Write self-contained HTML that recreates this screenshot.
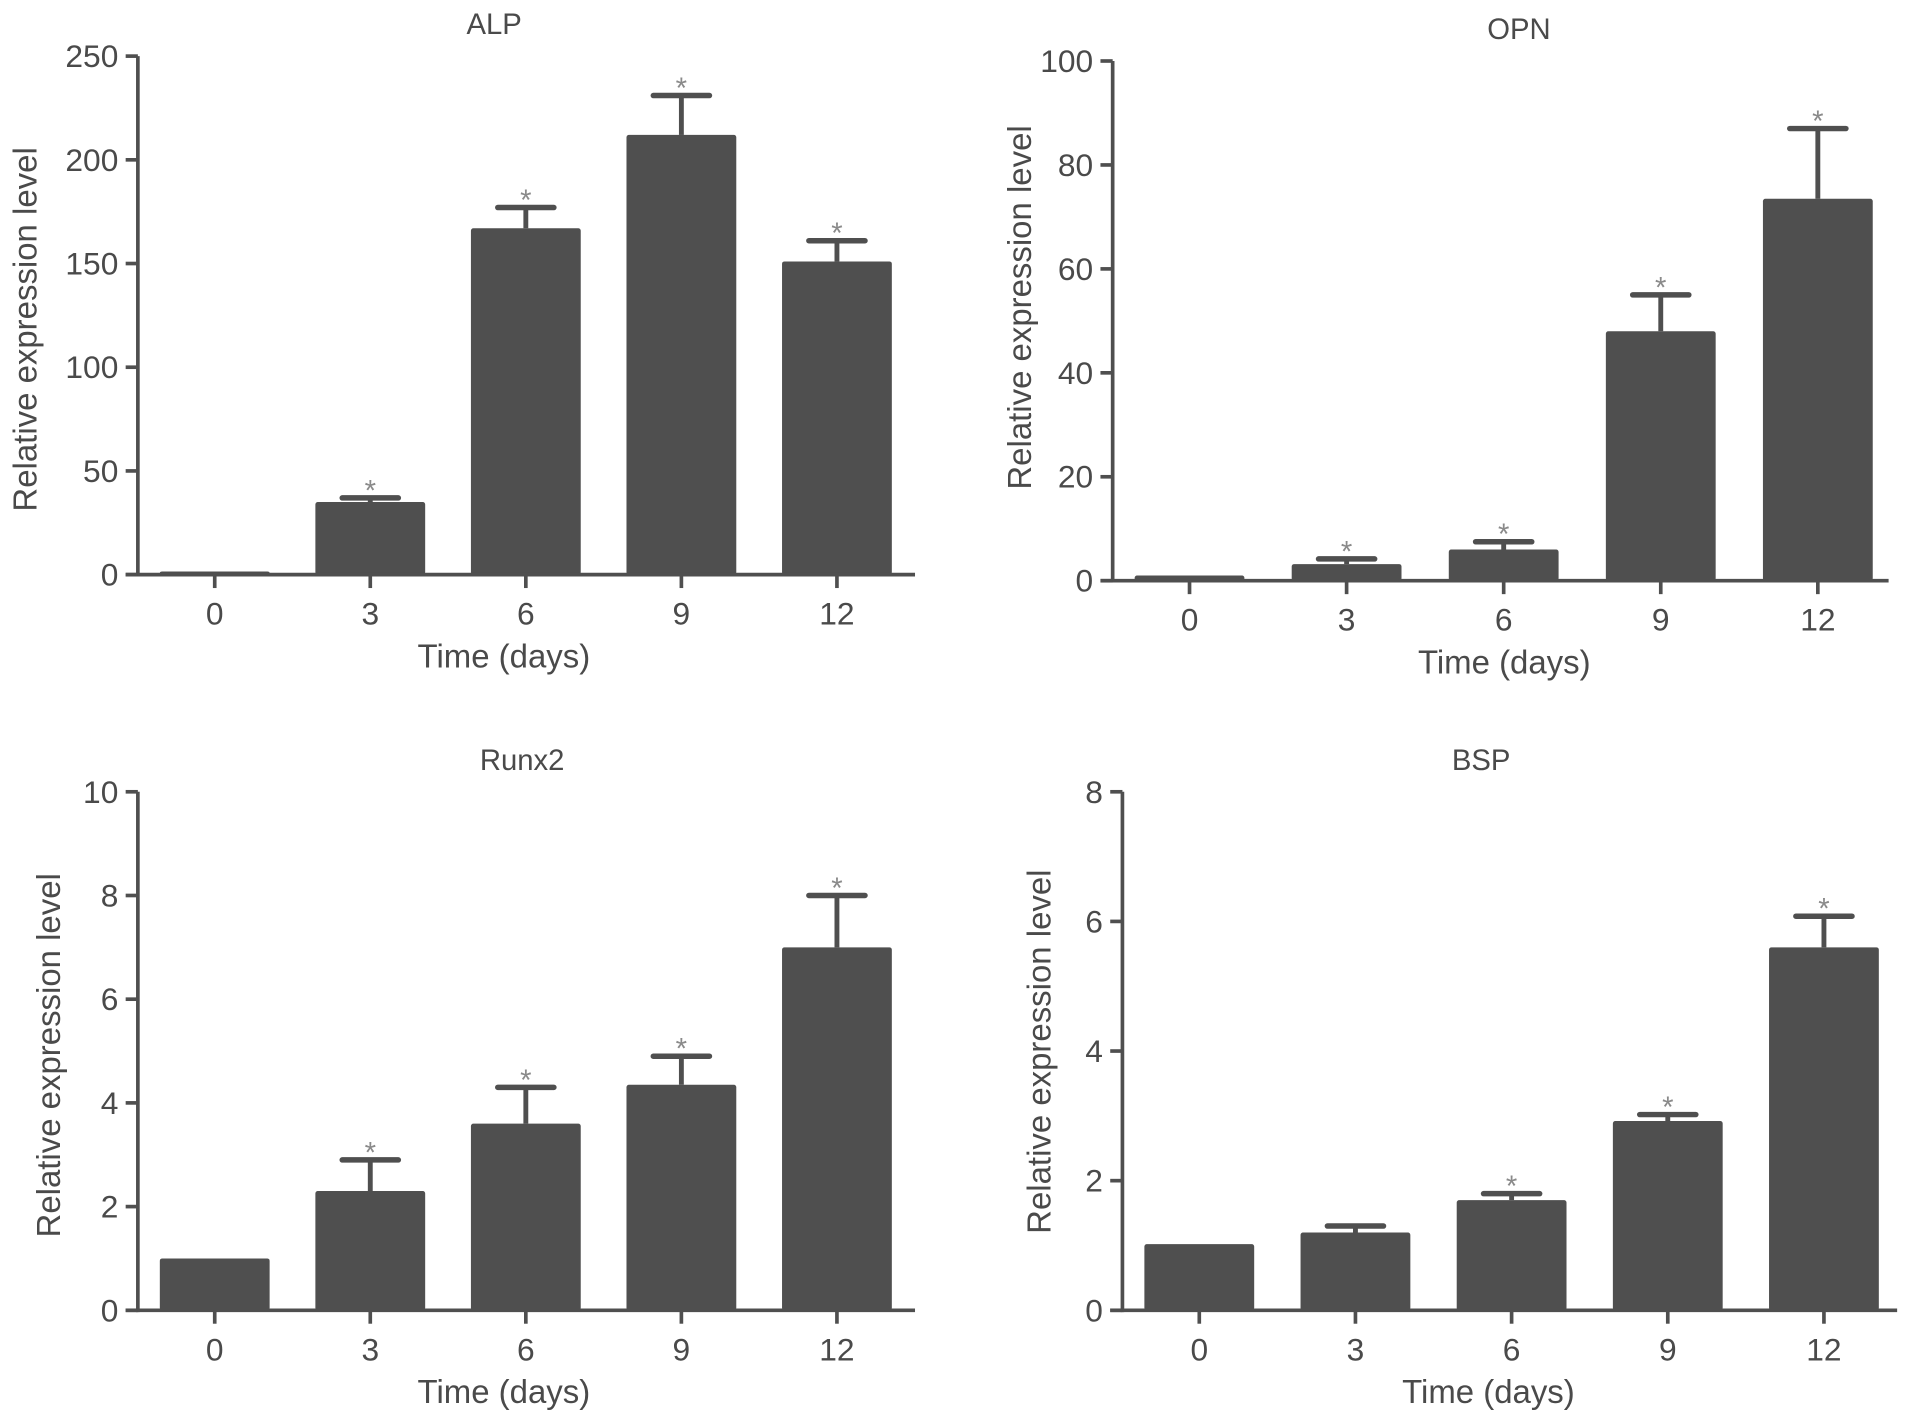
<!DOCTYPE html>
<html><head><meta charset="utf-8"><style>
body{margin:0;background:#fff;}
svg{display:block;font-family:"Liberation Sans",sans-serif;}
</style></head><body>
<svg id="fig" width="1913" height="1424" viewBox="0 0 1568 1167.2" preserveAspectRatio="none" xmlns="http://www.w3.org/2000/svg"></svg>
<script>
const categories = ["0","3","6","9","12"];
const alpValues = [1.5, 35, 167, 212, 151];
const alpErr = [0, 37, 177, 231, 161];
const alpSig = [false, true, true, true, true];
const alpTicks = [0, 50, 100, 150, 200, 250];
const opnValues = [1, 3.2, 6, 48, 73.5];
const opnErr = [0, 4.2, 7.5, 55, 87];
const opnSig = [false, true, true, true, true];
const opnTicks = [0, 20, 40, 60, 80, 100];
const runxValues = [1, 2.3, 3.6, 4.35, 7];
const runxErr = [0, 2.9, 4.3, 4.9, 8];
const runxSig = [false, true, true, true, true];
const runxTicks = [0, 2, 4, 6, 8, 10];
const bspValues = [1.02, 1.2, 1.7, 2.92, 5.6];
const bspErr = [0, 1.3, 1.8, 3.02, 6.08];
const bspSig = [false, false, true, true, true];
const bspTicks = [0, 2, 4, 6, 8];

const NS = "http://www.w3.org/2000/svg";
const svg = document.getElementById("fig");
function mk(tag, attrs, parent, text){
  const e = document.createElementNS(NS, tag);
  for (const k in attrs) e.setAttribute(k, attrs[k]);
  if (text !== undefined) e.textContent = text;
  parent.appendChild(e);
  return e;
}
function panel(cfg, values, errs, sig, ticks){
  const g = mk("g", {}, svg);
  
  
  const maxV = ticks[ticks.length-1];
  const y = v => cfg.y0 - (v / maxV) * (cfg.y0 - cfg.yTop);
  const x = i => cfg.x0 + 63 + i * (cfg.cx4 - cfg.x0 - 63) / 4;
  const col = "#4f4f4f";
  const txt = "#4a4a4a";
  const t = mk("text", {x: cfg.titleX, y: cfg.yTop - 18, "font-size": 24, fill: txt, "text-anchor": "middle"}, g, cfg.title);
  
  
  values.forEach((v, i) => {
    const cx = x(i);
    if (errs[i] > v) {
      const el = mk("line", {x1: cx, x2: cx, y1: y(v), y2: y(errs[i]), stroke: col, "stroke-width": 4}, g);
      
      
      const cap = mk("line", {x1: cx-23, x2: cx+23, y1: y(errs[i]), y2: y(errs[i]), stroke: col, "stroke-width": 4.5, "stroke-linecap": "round"}, g);
      
      
    }
    const r = mk("rect", {x: cx-45, y: y(v), width: 90, height: cfg.y0 - y(v), fill: col, rx: 2}, g);
    
    
    if (sig[i]) {
      const s = mk("text", {x: cx, y: y(Math.max(errs[i], v)) + 2, "font-size": 24, fill: "#8a8a8a", "text-anchor": "middle"}, g, "*");
      
      
    }
    const tk = mk("line", {x1: cx, x2: cx, y1: cfg.y0, y2: cfg.y0 + 11, stroke: col, "stroke-width": 3}, g);
    
    
    const tl = mk("text", {x: cx, y: cfg.y0 + 41, "font-size": 26, fill: txt, "text-anchor": "middle"}, g, categories[i]);
    
    
  });
  const ya = mk("line", {x1: cfg.x0, x2: cfg.x0, y1: cfg.yTop, y2: cfg.y0 + 1.5, stroke: col, "stroke-width": 3}, g);
  
  
  const xa = mk("line", {x1: cfg.x0 - 10, x2: cfg.xRight, y1: cfg.y0, y2: cfg.y0, stroke: col, "stroke-width": 3}, g);
  
  
  ticks.forEach(tv => {
    const ty = y(tv);
    const tk = mk("line", {x1: cfg.x0 - 10, x2: cfg.x0, y1: ty, y2: ty, stroke: col, "stroke-width": 3}, g);
    
    
    const tl = mk("text", {x: cfg.x0 - 16, y: ty + 9, "font-size": 26, fill: txt, "text-anchor": "end"}, g, String(tv));
    
    
  });
  const xl = mk("text", {x: cfg.xlX, y: cfg.y0 + 76, "font-size": 27, fill: txt, "text-anchor": "middle"}, g, "Time (days)");
  
  
  const ylY = cfg.ylC;
  const yl = mk("text", {x: cfg.ylX, y: ylY, "font-size": 27, fill: txt, "text-anchor": "middle", transform: `rotate(-90 ${cfg.ylX} ${ylY})`}, g, "Relative expression level");
  
  
}
panel({name:"alp", title:"ALP", x0:113, xRight:750, cx4:686, yTop:46, y0:471, titleX:405, xlX:413, ylX:30, ylC:270}, alpValues, alpErr, alpSig, alpTicks);
panel({name:"opn", title:"OPN", x0:912, xRight:1548, cx4:1490, yTop:50, y0:476, titleX:1245, xlX:1233, ylX:845, ylC:252}, opnValues, opnErr, opnSig, opnTicks);
panel({name:"runx2", title:"Runx2", x0:113, xRight:750, cx4:686, yTop:649, y0:1074, titleX:428, xlX:413, ylX:49, ylC:865}, runxValues, runxErr, runxSig, runxTicks);
panel({name:"bsp", title:"BSP", x0:920, xRight:1555, cx4:1495, yTop:649, y0:1074, titleX:1214, xlX:1220, ylX:861, ylC:862}, bspValues, bspErr, bspSig, bspTicks);
</script>
</body></html>
